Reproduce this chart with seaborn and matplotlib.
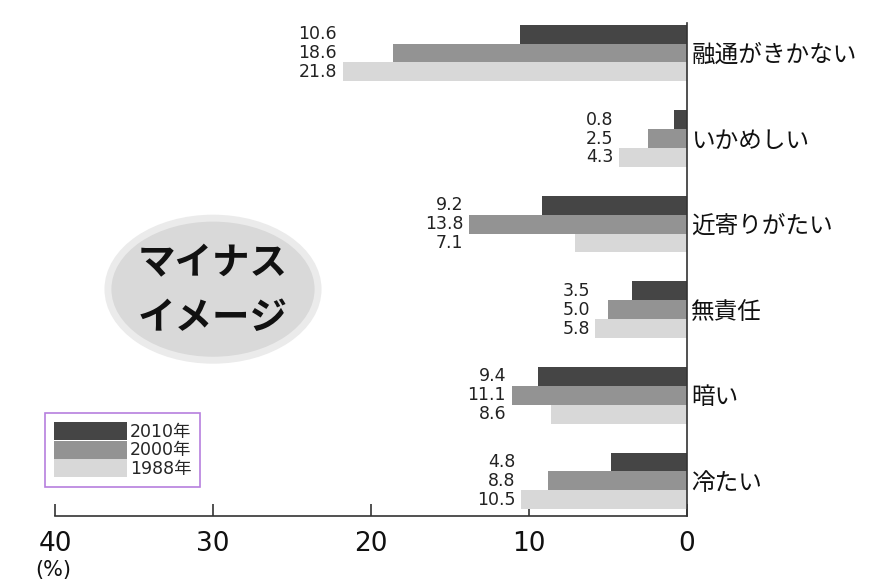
import pandas as pd
import numpy as np
import matplotlib
matplotlib.use("Agg")
import matplotlib.pyplot as plt
from matplotlib.patches import Ellipse
import seaborn as sns

# --- data ---
categories = ["融通がきかない", "いかめしい", "近寄りがたい", "無責任", "暗い", "冷たい"]
years = ["2010年", "2000年", "1988年"]
vals_2010 = [10.6, 0.8, 9.2, 3.5, 9.4, 4.8]
vals_2000 = [18.6, 2.5, 13.8, 5.0, 11.1, 8.8]
vals_1988 = [21.8, 4.3, 7.1, 5.8, 8.6, 10.5]
x_ticks = [40, 30, 20, 10, 0]

colors = ["#454545", "#939393", "#d8d8d8"]

rows = []
for yr, vals in zip(years, [vals_2010, vals_2000, vals_1988]):
    for cat, v in zip(categories, vals):
        rows.append({"category": cat, "year": yr, "value": v})
df = pd.DataFrame(rows)

sns.set_theme(style="white")
plt.rcParams["font.family"] = ["Noto Sans CJK JP", "DejaVu Sans"]
num_font = ["DejaVu Sans", "Noto Sans CJK JP"]

fig = plt.figure(figsize=(8.72, 5.84), dpi=100)
ax = fig.add_axes([55 / 872, 68 / 584, 632 / 872, 493 / 584])

sns.barplot(data=df, y="category", x="value", hue="year", hue_order=years,
            order=categories, palette=colors, width=0.66, saturation=1,
            orient="h", linewidth=0, edgecolor="none", ax=ax)

ax.set_xlim(40, 0)
ax.set_ylim(5.41, -0.35)
ax.set_xticks(x_ticks)
ax.set_xlabel("")
ax.set_ylabel("")

# spines
for s in ["top", "left"]:
    ax.spines[s].set_visible(False)
for s in ["right", "bottom"]:
    ax.spines[s].set_color("#333333")
    ax.spines[s].set_linewidth(1.2)

ax.yaxis.tick_right()
ax.tick_params(axis="y", length=0, pad=3, labelsize=17, labelcolor="#111111")
ax.tick_params(axis="x", direction="in", length=9, width=1.2, color="#333333",
               pad=11, labelsize=19, labelcolor="#111111", bottom=True)
for lab in ax.get_xticklabels():
    lab.set_family(num_font)

# value labels: right-aligned next to the longest bar in each group
group_max = [max(a, b, c) for a, b, c in zip(vals_2010, vals_2000, vals_1988)]
for cont in ax.containers:
    for i, bar in enumerate(cont):
        yc = bar.get_y() + bar.get_height() / 2
        ax.annotate(f"{bar.get_width():.1f}", xy=(group_max[i], yc),
                    xytext=(-4, 0), textcoords="offset points",
                    ha="right", va="center", fontsize=12.5, color="#222222",
                    family=num_font)

# legend
leg = ax.legend(loc="upper left", bbox_to_anchor=(45 / 872, 1 - 413 / 584),
                bbox_transform=fig.transFigure, frameon=True,
                fancybox=False, handlelength=4.2, handleheight=1.22,
                labelspacing=0, handletextpad=0.2, borderpad=0.5,
                borderaxespad=0, prop={"family": num_font, "size": 12.5})
leg.get_frame().set_edgecolor("#a45fd6")
leg.get_frame().set_linewidth(1.2)

# "マイナス イメージ" badge
ell = Ellipse((30.0, 2.76), width=13.3, height=1.66, facecolor="#d9d9d9",
              edgecolor="#ebebeb", linewidth=5, zorder=3)
ax.add_patch(ell)
ax.text(30.0, 2.77, "マイナス\nイメージ", ha="center", va="center",
        fontsize=27, fontweight="bold", linespacing=1.5, color="#111111",
        zorder=4)

fig.text(35 / 872, 1 - 570 / 584, "(%)", ha="left", va="center",
         fontsize=15, color="#111111", family=num_font)

fig.savefig("out.png", dpi=100)
